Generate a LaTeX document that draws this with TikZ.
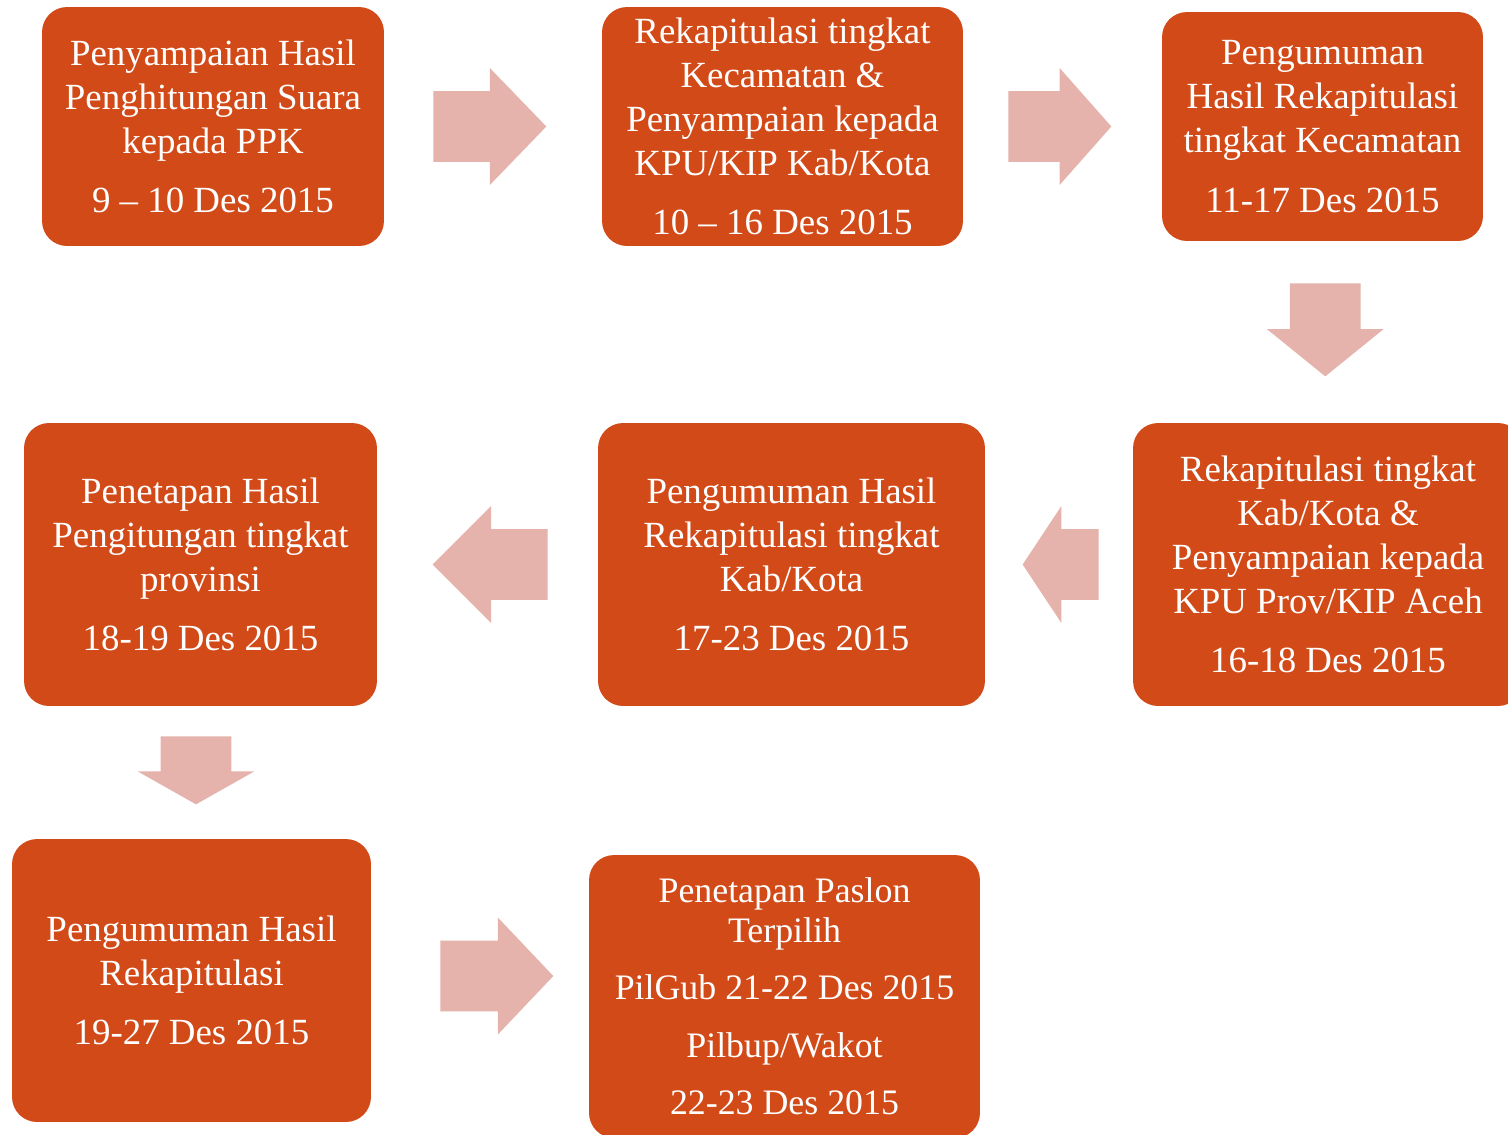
\documentclass[tikz,border=0pt]{standalone}
\usepackage{fontspec}
\setmainfont{Liberation Serif}
\usepackage{xcolor}
\usepackage{tikz}
\usetikzlibrary{shapes.arrows,positioning,calc}
\definecolor{stagefill}{RGB}{209,74,24}
\definecolor{arrowfill}{RGB}{229,178,172}
\tikzset{
    stage/.style={rectangle, rounded corners=0.5cm, fill=stagefill, text=white, align=center, inner sep=0pt, font=\fontsize{21}{25}\selectfont},
    stagesmall/.style={stage, font=\fontsize{20.4}{22.7}\selectfont},
    blockarrow/.style={single arrow, anchor=tail, fill=arrowfill, inner xsep=0pt, inner ysep=0.7cm, single arrow head extend=0.46cm, single arrow head indent=0pt},
}
\begin{document}
\begin{tikzpicture}[x=0.02cm, y=-0.02cm]
    \useasboundingbox (0,0) rectangle (1508,1134);
    \clip (0,0) rectangle (1508,1134);

    \node[stage, minimum width=6.84cm, minimum height=4.78cm] (ppk) at (213,126.5) {Penyampaian Hasil\\Penghitungan Suara\\kepada PPK\\[9pt]9 – 10 Des 2015};
    \node[stage, minimum width=7.22cm, minimum height=4.78cm] (kec) at (782.5,126.5) {Rekapitulasi tingkat\\Kecamatan \&\\Penyampaian kepada\\KPU/KIP Kab/Kota\\[9pt]10 – 16 Des 2015};
    \node[stage, minimum width=6.42cm, minimum height=4.58cm] (umkec) at (1322.5,126.5) {Pengumuman\\Hasil Rekapitulasi\\tingkat Kecamatan\\[9pt]11-17 Des 2015};
    \node[stage, minimum width=7.8cm, minimum height=5.66cm] (kab) at (1328,564.5) {Rekapitulasi tingkat\\Kab/Kota \&\\Penyampaian kepada\\KPU Prov/KIP Aceh\\[9pt]16-18 Des 2015};
    \node[stage, minimum width=7.74cm, minimum height=5.66cm] (umkab) at (791.5,564.5) {Pengumuman Hasil\\Rekapitulasi tingkat\\Kab/Kota\\[9pt]17-23 Des 2015};
    \node[stage, minimum width=7.06cm, minimum height=5.66cm] (prov) at (200.5,564.5) {Penetapan Hasil\\Pengitungan tingkat\\provinsi\\[9pt]18-19 Des 2015};
    \node[stage, minimum width=7.18cm, minimum height=5.66cm] (umprov) at (191.5,980.5) {Pengumuman Hasil\\Rekapitulasi\\[9pt]19-27 Des 2015};
    \node[stagesmall, minimum width=7.82cm, minimum height=5.66cm] (paslon) at (784.5,996.5) {Penetapan Paslon\\Terpilih\\[10pt]PilGub 21-22 Des 2015\\[10pt]Pilbup/Wakot\\[10pt]22-23 Des 2015};

    \node[blockarrow, minimum height=2.26cm, single arrow tip angle=92] (a1) at ($(ppk.east)!0.5!(kec.west)+(-60,0)$) {};
    \node[blockarrow, minimum height=2.06cm, single arrow tip angle=97] (a2) at ($(kec.east)!0.5!(umkec.west)+(-54.5,0)$) {};
    \node[blockarrow, rotate=270, minimum height=1.86cm, single arrow tip angle=102] (a3) at ($(umkec.south)!0.5!(kab.north)+(0,-49)$) {};
    \node[blockarrow, rotate=180, minimum height=1.52cm, single arrow tip angle=113] (a4) at ($(kab.west)!0.5!(umkab.east)+(40,0)$) {};
    \node[blockarrow, rotate=180, minimum height=2.3cm, single arrow tip angle=90] (a5) at ($(umkab.west)!0.5!(prov.east)+(60.5,0)$) {};
    \node[blockarrow, rotate=270, minimum height=1.36cm, single arrow tip angle=121] (a6) at ($(prov.south)!0.5!(umprov.north)+(0,-36.5)$) {};
    \node[blockarrow, minimum height=2.26cm, single arrow tip angle=93] (a7) at ($(umprov.east)!0.5!(paslon.west)+(-40,-12.5)$) {};
\end{tikzpicture}
\end{document}
